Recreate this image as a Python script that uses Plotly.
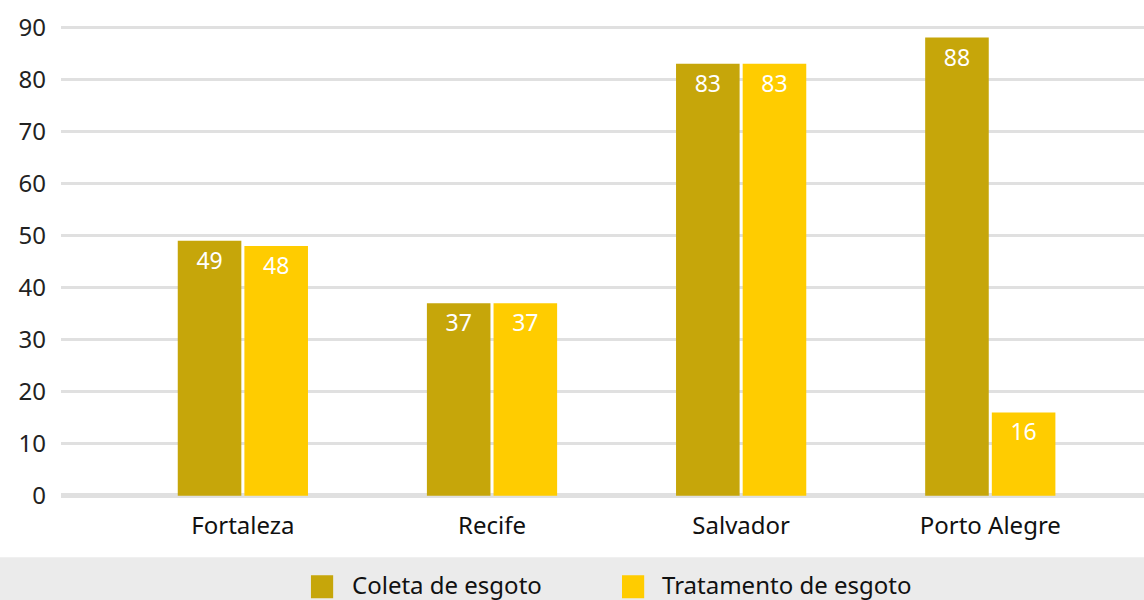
import plotly.graph_objects as go

cities = ["Fortaleza", "Recife", "Salvador", "Porto Alegre"]
series_names = ["Coleta de esgoto", "Tratamento de esgoto"]
coleta = [49, 37, 83, 88]
tratamento = [48, 37, 83, 16]
colors = ["#C6A60A", "#FFCC00"]
y_ticks = [0, 10, 20, 30, 40, 50, 60, 70, 80, 90]

FONT = "Noto Sans"

fig = go.Figure()
for name, vals, col in zip(series_names, [coleta, tratamento], colors):
    fig.add_trace(go.Bar(
        x=cities, y=vals, name=name, marker=dict(color=col, line=dict(width=0)),
        text=[str(v) for v in vals], textposition="inside", insidetextanchor="end",
        textangle=0, textfont=dict(color="white", size=23, family=FONT),
        showlegend=False,
    ))

# background band for legend
fig.add_shape(type="rect", xref="paper", yref="paper", x0=-0.2, x1=1.2,
              y0=-0.1175, y1=-0.35, fillcolor="#EBEBEB", line=dict(width=0), layer="below")

# manual legend
leg_sq_x = [0.2308, 0.518]
leg_txt_x = [0.2669, 0.5531]
for name, col, sx, tx in zip(series_names, colors, leg_sq_x, leg_txt_x):
    fig.add_shape(type="rect", xref="paper", yref="paper", x0=sx, x1=sx + 0.0205,
                  y0=-0.155, y1=-0.203, fillcolor=col, line=dict(width=0))
    fig.add_annotation(xref="paper", yref="paper", x=tx, y=-0.174, text=name,
                       showarrow=False, xanchor="left", yanchor="middle",
                       font=dict(size=24, color="#111111", family=FONT))

fig.update_layout(
    width=1144, height=600,
    margin=dict(l=61, r=0, t=21.5, b=99.3),
    paper_bgcolor="white", plot_bgcolor="white",
    barmode="group", bargap=0.465, bargroupgap=0.046,
    font=dict(family=FONT, color="#222222"),
    uniformtext=dict(minsize=10, mode="show"),
)
fig.update_xaxes(
    type="category", range=[-0.73, 3.617], showgrid=False, showline=False,
    ticks="", tickfont=dict(size=24, color="#111111", family=FONT),
    ticklabelstandoff=8,
)
fig.update_yaxes(
    range=[-1, 91], tickvals=y_ticks, showgrid=True, gridcolor="#E0E0E0", gridwidth=3,
    zeroline=True, zerolinecolor="#E0E0E0", zerolinewidth=5, showline=False,
    ticks="", tickfont=dict(size=24, color="#222222", family=FONT),
    ticklabelstandoff=14,
)

fig.write_html("out.html")
